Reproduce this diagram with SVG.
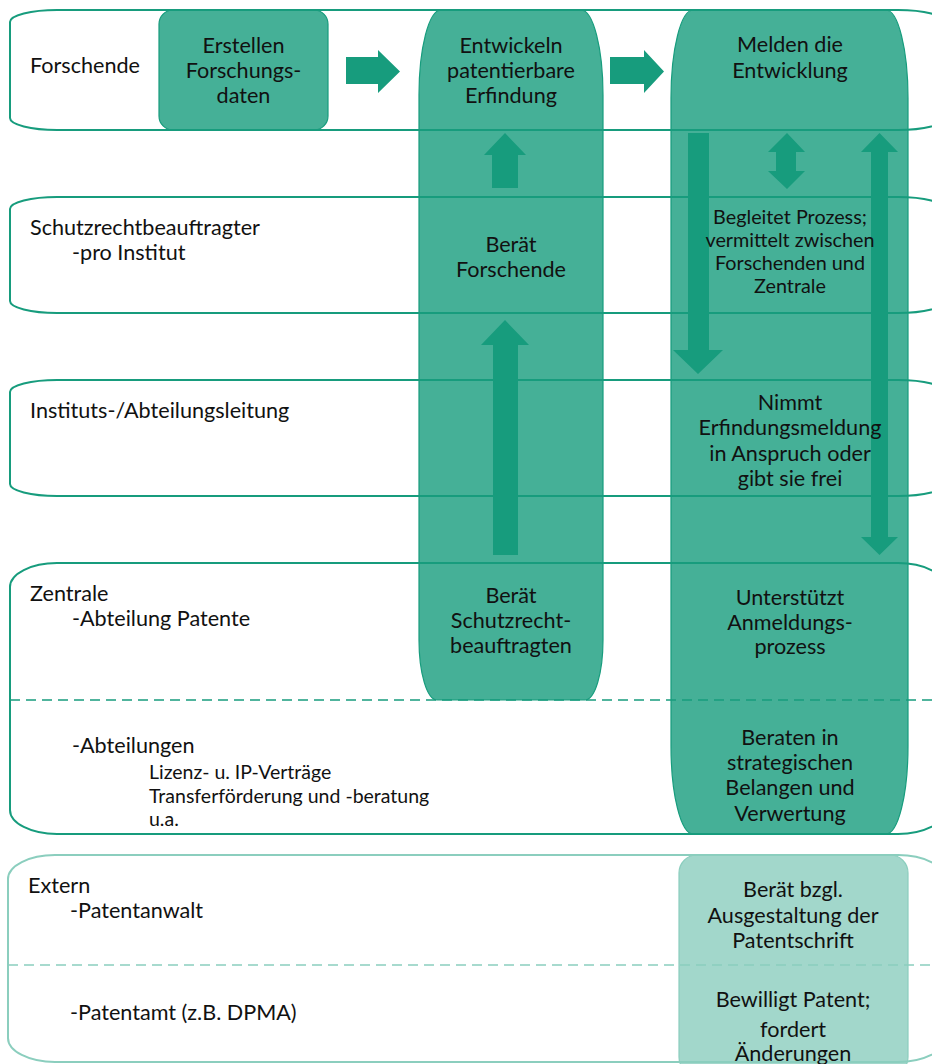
<svg xmlns="http://www.w3.org/2000/svg" width="932" height="1064" viewBox="0 0 932 1064">
<defs>
<style>
.lanebg{fill:#ffffff;stroke:none}
.lane{fill:none;stroke:#179C7D;stroke-width:2}
.lanel{fill:none;stroke:#8BCEBE;stroke-width:2}
.dash{stroke:#179C7D;stroke-width:1.6;stroke-dasharray:10 6}
.dashl{stroke:#8BCEBE;stroke-width:1.6;stroke-dasharray:10 6}
.col{fill:#45B097;stroke:#179C7D;stroke-width:1.2}
.colL{fill:#A2D7CB;stroke:#8BCEBE;stroke-width:1.2}
.arr{fill:#179C7D}
text{font-family:Lato,"Liberation Sans",sans-serif;fill:#111}
.t{font-size:21.6px;text-anchor:middle}
.ts{font-size:19.8px;text-anchor:middle}
.l{font-size:21.6px}
.ls{font-size:19.5px}
</style>
</defs>
<rect width="932" height="1064" fill="#ffffff"/>
<g id="lane-backgrounds">
<rect class="lanebg" x="10" y="10" width="935" height="120" rx="47" ry="12"/>
<rect class="lanebg" x="10" y="197" width="935" height="116" rx="47" ry="12"/>
<rect class="lanebg" x="10" y="380" width="935" height="116" rx="47" ry="12"/>
<rect class="lanebg" x="10" y="563" width="935" height="271" rx="47" ry="24"/>
<rect class="lanebg" x="8" y="855" width="937" height="207" rx="47" ry="24"/>
</g>
<g id="node-erstellen">
<rect class="col" x="159" y="10" width="169" height="120" rx="14"/>
</g>
<g id="node-entwickeln">
<path class="col" d="M441,10 H581 A22 85 0 0 1 603,95 V640 A18 60 0 0 1 585,700 H437 A18 60 0 0 1 419,640 V95 A22 85 0 0 1 441,10 Z"/>
</g>
<g id="node-melden">
<path class="col" d="M693,10 H886 A22 88 0 0 1 908,98 V746 A22 88 0 0 1 886,834 H693 A22 88 0 0 1 671,746 V98 A22 88 0 0 1 693,10 Z"/>
</g>
<g id="node-extern">
<rect class="colL" x="679" y="855" width="229" height="220" rx="18"/>
</g>
<g id="connectors">
<polygon class="arr" points="346,57 378,57 378,50 400,71.5 378,93 378,84 346,84"/>
<polygon class="arr" points="610,57 644,57 644,50 664,71.5 644,93 644,84 610,84"/>
<polygon class="arr" points="505,133 526,155 518,155 518,188 492,188 492,155 484,155"/>
<polygon class="arr" points="505,320 529,345 518,345 518,555 493,555 493,345 481,345"/>
<polygon class="arr" points="688,133 709,133 709,350 723,350 698,374 673,350 688,350"/>
<polygon class="arr" points="787,133 805,152 796,152 796,171 805,171 787,189 768,171 776,171 776,152 768,152"/>
<polygon class="arr" points="879.5,133 898,152 888,152 888,537 898,537 879.5,555 861,537 871,537 871,152 861,152"/>
</g>
<g id="lane-outlines">
<rect class="lane" x="10" y="10" width="935" height="120" rx="47" ry="12"/>
<rect class="lane" x="10" y="197" width="935" height="116" rx="47" ry="12"/>
<rect class="lane" x="10" y="380" width="935" height="116" rx="47" ry="12"/>
<rect class="lane" x="10" y="563" width="935" height="271" rx="47" ry="24"/>
<line class="dash" x1="10" y1="700" x2="932" y2="700"/>
<rect class="lanel" x="8" y="855" width="937" height="207" rx="47" ry="24"/>
<line class="dashl" x1="8" y1="965" x2="932" y2="965"/>
</g>
<g id="lane-forschende">
<text class="l" x="30" y="73">Forschende</text>
</g>
<g id="lane-schutzrecht">
<text class="l" x="30" y="235">Schutzrechtbeauftragter</text>
<text class="l" x="72" y="260">-pro Institut</text>
</g>
<g id="lane-leitung">
<text class="l" x="30" y="418">Instituts-/Abteilungsleitung</text>
</g>
<g id="lane-zentrale">
<text class="l" x="30" y="601">Zentrale</text>
<text class="l" x="72" y="626">-Abteilung Patente</text>
<text class="l" x="72" y="753">-Abteilungen</text>
<text class="ls" x="149" y="779">Lizenz- u. IP-Verträge</text>
<text class="ls" x="149" y="803">Transferförderung und -beratung</text>
<text class="ls" x="149" y="826">u.a.</text>
</g>
<g id="lane-extern">
<text class="l" x="28" y="893">Extern</text>
<text class="l" x="70" y="918">-Patentanwalt</text>
<text class="l" x="70" y="1020">-Patentamt (z.B. DPMA)</text>
</g>
<g id="labels-erstellen">
<text class="t" x="243.5" y="53">Erstellen</text>
<text class="t" x="243.5" y="78">Forschungs-</text>
<text class="t" x="243.5" y="103">daten</text>
</g>
<g id="labels-entwickeln">
<text class="t" x="511" y="53">Entwickeln</text>
<text class="t" x="511" y="78">patentierbare</text>
<text class="t" x="511" y="103">Erfindung</text>
<text class="t" x="511" y="252">Berät</text>
<text class="t" x="511" y="277">Forschende</text>
<text class="t" x="511" y="603">Berät</text>
<text class="t" x="511" y="628">Schutzrecht-</text>
<text class="t" x="511" y="653">beauftragten</text>
</g>
<g id="labels-melden">
<text class="t" x="790" y="52">Melden die</text>
<text class="t" x="790" y="78">Entwicklung</text>
<text class="ts" x="790" y="224">Begleitet Prozess;</text>
<text class="ts" x="790" y="247">vermittelt zwischen</text>
<text class="ts" x="790" y="270">Forschenden und</text>
<text class="ts" x="790" y="293">Zentrale</text>
<text class="t" x="790" y="410">Nimmt</text>
<text class="t" x="790" y="435">Erfindungsmeldung</text>
<text class="t" x="790" y="461">in Anspruch oder</text>
<text class="t" x="790" y="486">gibt sie frei</text>
<text class="t" x="790" y="605">Unterstützt</text>
<text class="t" x="790" y="630">Anmeldungs-</text>
<text class="t" x="790" y="654">prozess</text>
<text class="t" x="790" y="745">Beraten in</text>
<text class="t" x="790" y="770">strategischen</text>
<text class="t" x="790" y="795">Belangen und</text>
<text class="t" x="790" y="821">Verwertung</text>
</g>
<g id="labels-extern">
<text class="t" x="793" y="897">Berät bzgl.</text>
<text class="t" x="793" y="923">Ausgestaltung der</text>
<text class="t" x="793" y="948">Patentschrift</text>
<text class="t" x="793" y="1007">Bewilligt Patent;</text>
<text class="t" x="793" y="1037">fordert</text>
<text class="t" x="793" y="1061">Änderungen</text>
</g>
</svg>
